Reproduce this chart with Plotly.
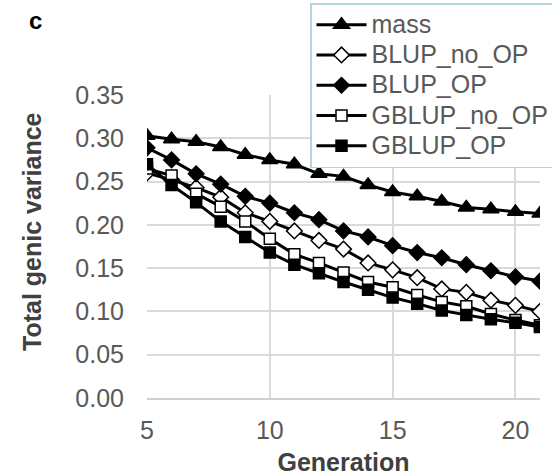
import plotly.graph_objects as go

generation = list(range(5, 22))
mass = [0.303, 0.299, 0.296, 0.290, 0.281, 0.275, 0.270, 0.259, 0.256, 0.246,
        0.238, 0.233, 0.227, 0.220, 0.218, 0.215, 0.213]
blup_no_op = [0.260, 0.252, 0.243, 0.232, 0.214, 0.204, 0.193, 0.182, 0.172, 0.156,
              0.148, 0.139, 0.126, 0.122, 0.113, 0.107, 0.100]
blup_op = [0.289, 0.275, 0.259, 0.247, 0.233, 0.225, 0.214, 0.206, 0.193, 0.186,
           0.176, 0.168, 0.162, 0.154, 0.147, 0.140, 0.135]
gblup_no_op = [0.265, 0.257, 0.236, 0.221, 0.204, 0.184, 0.166, 0.156, 0.145, 0.134,
               0.128, 0.119, 0.111, 0.106, 0.097, 0.090, 0.084]
gblup_op = [0.270, 0.246, 0.226, 0.204, 0.186, 0.168, 0.154, 0.144, 0.134, 0.125,
            0.116, 0.109, 0.101, 0.096, 0.091, 0.087, 0.082]
y_ticks = [0, 0.05, 0.1, 0.15, 0.2, 0.25, 0.3, 0.35]
x_ticks = [5, 10, 15, 20]

series = [
    ("mass", mass, "triangle-up", "black", 14),
    ("BLUP_no_OP", blup_no_op, "diamond", "white", 12),
    ("BLUP_OP", blup_op, "diamond", "black", 12),
    ("GBLUP_no_OP", gblup_no_op, "square", "white", 11),
    ("GBLUP_OP", gblup_op, "square", "black", 11),
]

fig = go.Figure()
for name, vals, sym, fill, size in series:
    fig.add_trace(go.Scatter(
        x=generation, y=vals,
        name="<span style='font-size:25px'>" + name + "</span>",
        mode="lines+markers",
        line=dict(color="black", width=3),
        marker=dict(symbol=sym, size=size, color=fill,
                    line=dict(color="black", width=1.5)),
    ))

font_fam = "Liberation Sans, Arial, sans-serif"
fs = 25
fig.update_layout(
    width=552, height=476,
    margin=dict(l=147, r=12, t=95, b=78, autoexpand=False),
    plot_bgcolor="white", paper_bgcolor="white",
    font=dict(family=font_fam, color="#595959", size=fs),
    xaxis=dict(range=[5, 21], tickvals=x_ticks, showgrid=True,
               gridcolor="#d9d9d9", gridwidth=1.5, zeroline=False,
               showline=True, linecolor="#d0d0d0", linewidth=1.5,
               ticks="", ticklabelstandoff=9, automargin=False,
               title=dict(text="<b>Generation</b>", font=dict(size=fs, color="#404040"),
                          standoff=17)),
    yaxis=dict(range=[0, 0.35], tickvals=y_ticks,
               tickformat=".2f", showgrid=True, gridcolor="#d9d9d9", gridwidth=1.5,
               zeroline=False, showline=False, ticks="", ticklabelstandoff=22,
               automargin=False),
    legend=dict(x=(310 - 147) / 393, y=(398 - 3) / 303, xanchor="left", yanchor="top",
                bgcolor="white", bordercolor="#b4d4de", borderwidth=1.5,
                font=dict(size=21, color="#595959"),
                itemwidth=50, tracegroupgap=0),
    showlegend=True,
    annotations=[
        dict(text="<b>c</b>", xref="paper", yref="paper",
             x=(35 - 147) / 393, y=(398 - 21) / 303,
             xanchor="center", yanchor="middle",
             showarrow=False, font=dict(size=24, color="black")),
        dict(text="<b>Total genic variance</b>", xref="paper", yref="paper",
             x=(32 - 147) / 393, y=(398 - 232) / 303, textangle=-90,
             xanchor="center", yanchor="middle",
             showarrow=False, font=dict(size=fs, color="#404040")),
    ],
)
fig.write_html("out.html", config={"displayModeBar": False},
               post_script="document.body.style.margin='0';")
